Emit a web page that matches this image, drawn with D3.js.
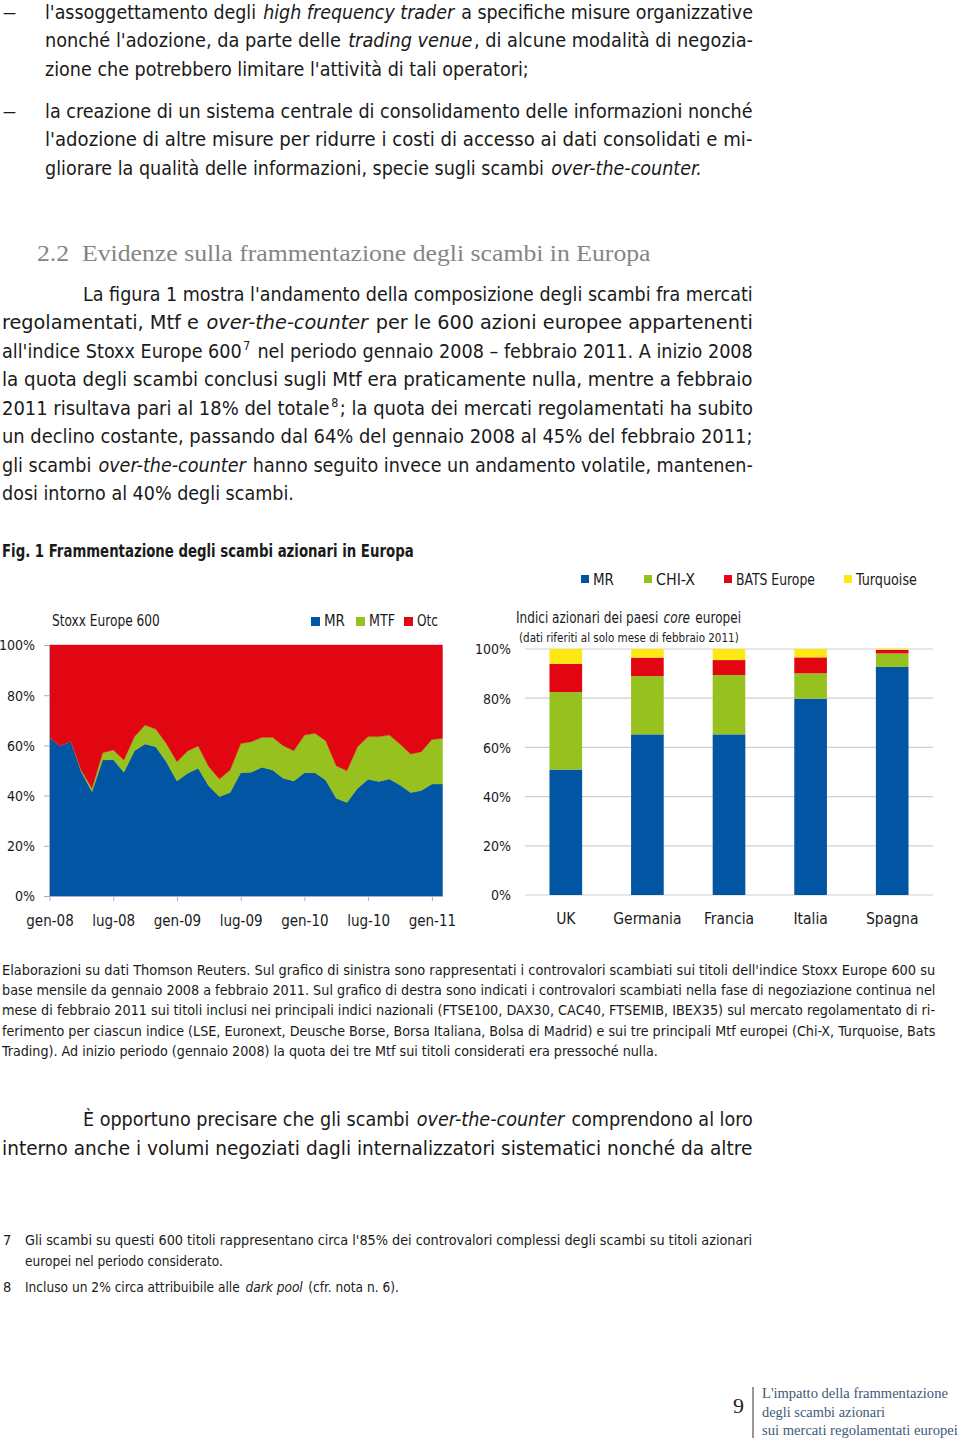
<!DOCTYPE html>
<html><head><meta charset="utf-8">
<script src="https://cdn.jsdelivr.net/npm/d3@7"></script>
<style>
html,body{margin:0;padding:0;background:#fff;}
svg{display:block;}
</style></head>
<body>
<svg id="page" width="960" height="1444"></svg>
<script>
// ---------------- DATA ----------------
const months = ["gen-08","feb-08","mar-08","apr-08","mag-08","giu-08","lug-08","ago-08","set-08","ott-08","nov-08","dic-08",
  "gen-09","feb-09","mar-09","apr-09","mag-09","giu-09","lug-09","ago-09","set-09","ott-09","nov-09","dic-09",
  "gen-10","feb-10","mar-10","apr-10","mag-10","giu-10","lug-10","ago-10","set-10","ott-10","nov-10","dic-10",
  "gen-11","feb-11"];
const mrLeft = [63.2,59.8,61.8,49.5,41.6,54.2,54.4,49.3,57.9,60.6,59.5,53.5,45.8,48.9,50.9,43.8,39.6,41.2,49.1,49.3,51.3,50.2,46.9,45.8,49.1,49.1,46.2,38.9,37.3,42.9,46.5,45.6,46.6,44.2,41.2,42.0,44.6,44.6];
const mtfLeft = [0,0,0,0.5,1.3,2.9,3.8,4.9,5.6,7.5,7.0,7.3,7.7,8.9,8.9,7.7,7.0,9.0,11.7,12.2,11.9,13.0,13.0,12.1,15.0,15.7,15.7,13.0,12.6,16.6,17.0,17.9,17.5,16.4,15.4,15.5,17.8,18.2];
const otcLeft = [36.8,40.2,38.2,50.0,57.1,42.9,41.8,45.8,36.5,31.9,33.5,39.2,46.5,42.2,40.2,48.5,53.4,49.8,39.2,38.5,36.8,36.8,40.1,42.1,35.9,35.2,38.1,48.1,50.1,40.5,36.5,36.5,35.9,39.4,43.4,42.5,37.6,37.2];
const leftTickLabels = ["gen-08","lug-08","gen-09","lug-09","gen-10","lug-10","gen-11"];
const yTickLabels = ["0%","20%","40%","60%","80%","100%"];

const countries = ["UK","Germania","Francia","Italia","Spagna"];
const mrRight   = [51.0,65.3,65.3,79.8,92.7];
const chixRight = [31.5,23.7,24.1,10.3,5.5];
const batsRight = [11.5,7.5,6.1,6.5,1.4];
const turqRight = [6.0,3.5,4.5,3.4,0.4];

const leftSeries = ["MR","MTF","Otc"];
const rightSeries = ["MR","CHI-X","BATS Europe","Turquoise"];
const colors = {blue:"#0255a3", green:"#96c11f", red:"#e20613", yellow:"#fde813"};

// ---------------- SETUP ----------------
const svg = d3.select("#page");
const SANS = "'Liberation Sans Narrow','DejaVu Sans Condensed',Roboto,sans-serif";
const SERIF = "'Liberation Serif','DejaVu Serif',serif";
const TXT = "#1a1a1a";

// text line helper: segs = [[text, style]] style: "i" italic, "sup" superscript
// each segment is its own <text>, horizontally scaled (transform) so the line spans opts.width
function line(x, y, segs, opts={}) {
  if (typeof segs === "string") segs = [[segs]];
  const size = opts.size || 20;
  const gap = 1.5;
  const els = segs.map(s => {
    const t = svg.append("text").attr("x", 0).attr("y", 0)
      .attr("font-family", opts.family || SANS)
      .attr("font-size", s[1]==="sup" ? size*0.62 : size)
      .attr("fill", opts.fill || TXT)
      .attr("font-weight", opts.weight || "normal")
      .attr("font-style", s[1]==="i" ? "italic" : "normal")
      .attr("xml:space","preserve")
      .style("white-space","pre")
      .text(s[0]);
    return t;
  });
  const widths = els.map(e => e.node().getComputedTextLength());
  const total = d3.sum(widths);
  const k = opts.width ? (opts.width - gap*(els.length-1)) / total : 1;
  let cx = x;
  els.forEach((e,i) => {
    const yy = segs[i][1]==="sup" ? y-8 : y;
    e.attr("transform", `translate(${cx},${yy}) scale(${k},1)`);
    cx += widths[i]*k + gap;
  });
}

// ---------------- BODY TEXT (top) ----------------
line(3, 19, "—", {width:13});
line(45, 19, [["l'assoggettamento degli "],["high frequency trader","i"],[" a specifiche misure organizzative"]], {width:708});
line(45, 47, [["nonché l'adozione, da parte delle "],["trading venue","i"],[", di alcune modalità di negozia-"]], {width:708});
line(45, 76, "zione che potrebbero limitare l'attività di tali operatori;", {width:484});
line(3, 118, "—", {width:13});
line(45, 118, "la creazione di un sistema centrale di consolidamento delle informazioni nonché", {width:708});
line(45, 146, "l'adozione di altre misure per ridurre i costi di accesso ai dati consolidati e mi-", {width:708});
line(45, 175, [["gliorare la qualità delle informazioni, specie sugli scambi "],["over-the-counter.","i"]], {width:657});

line(37, 261, "2.2  Evidenze sulla frammentazione degli scambi in Europa", {family:SERIF, size:23, fill:"#858585", width:614});

line(83, 301, "La figura 1 mostra l'andamento della composizione degli scambi fra mercati", {width:670});
line(2, 329, [["regolamentati, Mtf e "],["over-the-counter","i"],[" per le 600 azioni europee appartenenti"]], {width:751});
line(2, 358, [["all'indice Stoxx Europe 600"],["7","sup"],[" nel periodo gennaio 2008 – febbraio 2011. A inizio 2008"]], {width:751});
line(2, 386, "la quota degli scambi conclusi sugli Mtf era praticamente nulla, mentre a febbraio", {width:751});
line(2, 415, [["2011 risultava pari al 18% del totale"],["8","sup"],["; la quota dei mercati regolamentati ha subito"]], {width:751});
line(2, 443, "un declino costante, passando dal 64% del gennaio 2008 al 45% del febbraio 2011;", {width:751});
line(2, 472, [["gli scambi "],["over-the-counter","i"],[" hanno seguito invece un andamento volatile, mantenen-"]], {width:751});
line(2, 500, "dosi intorno al 40% degli scambi.", {width:292});

line(2, 557, "Fig. 1 Frammentazione degli scambi azionari in Europa", {size:17, weight:"bold", width:412});

// ---------------- LEFT CHART ----------------
const axisCol = "#a3b1c6";
const xL = d3.scaleLinear().domain([0, months.length-1]).range([49.5, 442.5]);
const yL = d3.scaleLinear().domain([0, 100]).range([896, 645]);

const leftData = months.map((m,i)=>({i, MR: mrLeft[i], MTF: mtfLeft[i], Otc: otcLeft[i]}));
const stackL = d3.stack().keys(leftSeries)(leftData);
const leftColors = {MR: colors.blue, MTF: colors.green, Otc: colors.red};
const area = d3.area().x(d=>xL(d.data.i)).y0(d=>yL(d[0])).y1(d=>yL(d[1]));
svg.append("g").selectAll("path").data(stackL).join("path")
  .attr("d", area).attr("fill", d=>leftColors[d.key]).attr("stroke", d=>leftColors[d.key]).attr("stroke-width",0.4);

// y axis left
const gyL = svg.append("g").attr("transform","translate(49,0)")
  .call(d3.axisLeft(yL).tickValues([0,20,40,60,80,100]).tickFormat((d,i)=>yTickLabels[i]).tickSize(5).tickPadding(9));
gyL.select(".domain").attr("stroke", axisCol);
gyL.selectAll(".tick line").attr("stroke", axisCol);
gyL.selectAll(".tick text").attr("font-family", SANS).attr("font-size", 14).attr("fill", TXT).attr("dy","0.35em");
// x axis left
const tickIdx = leftTickLabels.map(l => months.indexOf(l));
const gxL = svg.append("g").attr("transform","translate(0,896)")
  .call(d3.axisBottom(xL).tickValues(tickIdx).tickFormat(i=>months[i]).tickSize(5).tickPadding(14).tickSizeOuter(0));
gxL.select(".domain").attr("stroke", axisCol);
gxL.selectAll(".tick line").attr("stroke", axisCol);
gxL.selectAll(".tick text").attr("font-family", SANS).attr("font-size", 15).attr("fill", TXT);

line(52, 626, "Stoxx Europe 600", {size:15.5, width:108});
// left legend
const legL = [[311,"MR",colors.blue,21],[356,"MTF",colors.green,26],[404,"Otc",colors.red,21]];
legL.forEach(([x,lab,c,w])=>{
  svg.append("rect").attr("x",x).attr("y",617).attr("width",9).attr("height",9).attr("fill",c);
  line(x+13, 626, lab, {size:15.5, width:w});
});

// ---------------- RIGHT CHART ----------------
const xR = d3.scaleBand().domain(countries).range([525, 933]).paddingInner(0.6).paddingOuter(0.3);
const yR = d3.scaleLinear().domain([0,100]).range([895, 649]);
// gridlines
svg.append("g").selectAll("line").data([0,20,40,60,80,100]).join("line")
  .attr("x1",525).attr("x2",933).attr("y1",d=>yR(d)).attr("y2",d=>yR(d))
  .attr("stroke","#cfcfcf").attr("stroke-width",1.2);
const rightData = countries.map((c,i)=>({c, "MR":mrRight[i], "CHI-X":chixRight[i], "BATS Europe":batsRight[i], "Turquoise":turqRight[i]}));
const stackR = d3.stack().keys(rightSeries)(rightData);
const rightColors = {"MR":colors.blue,"CHI-X":colors.green,"BATS Europe":colors.red,"Turquoise":colors.yellow};
svg.append("g").selectAll("g").data(stackR).join("g").attr("fill", d=>rightColors[d.key])
  .selectAll("rect").data(d=>d).join("rect")
  .attr("x", d=>xR(d.data.c)).attr("width", xR.bandwidth())
  .attr("y", d=>yR(d[1])).attr("height", d=>yR(d[0])-yR(d[1]));
// y labels
const gyR = svg.append("g").attr("transform","translate(525,0)")
  .call(d3.axisLeft(yR).tickValues([0,20,40,60,80,100]).tickFormat((d,i)=>yTickLabels[i]).tickSize(0).tickPadding(14));
gyR.select(".domain").remove();
gyR.selectAll(".tick text").attr("font-family", SANS).attr("font-size", 14).attr("fill", TXT).attr("dy","0.35em");
// x labels
const gxR = svg.append("g").attr("transform","translate(0,895)")
  .call(d3.axisBottom(xR).tickSize(0).tickPadding(18));
gxR.select(".domain").remove();
gxR.selectAll(".tick text").attr("font-family", SANS).attr("font-size", 15.5).attr("fill", TXT);

line(516, 623, [["Indici azionari dei paesi "],["core","i"],[" europei"]], {size:15.5, width:225});
line(519, 642, "(dati riferiti al solo mese di febbraio 2011)", {size:12.5, width:220});
// right legend
const legR = [[581,"MR",colors.blue,21],[644,"CHI-X",colors.green,39],[724,"BATS Europe",colors.red,79],[844,"Turquoise",colors.yellow,61]];
legR.forEach(([x,lab,c,w])=>{
  svg.append("rect").attr("x",x).attr("y",575).attr("width",8).attr("height",8).attr("fill",c);
  line(x+12, 584.5, lab, {size:15.5, width:w});
});

// ---------------- CAPTION ----------------
const cs = 14.2;
line(2, 975, "Elaborazioni su dati Thomson Reuters. Sul grafico di sinistra sono rappresentati i controvalori scambiati sui titoli dell'indice Stoxx Europe 600 su", {size:cs, width:933});
line(2, 995, "base mensile da gennaio 2008 a febbraio 2011. Sul grafico di destra sono indicati i controvalori scambiati nella fase di negoziazione continua nel", {size:cs, width:933});
line(2, 1015, "mese di febbraio 2011 sui titoli inclusi nei principali indici nazionali (FTSE100, DAX30, CAC40, FTSEMIB, IBEX35) sul mercato regolamentato di ri-", {size:cs, width:933});
line(2, 1036, "ferimento per ciascun indice (LSE, Euronext, Deusche Borse, Borsa Italiana, Bolsa di Madrid) e sui tre principali Mtf europei (Chi-X, Turquoise, Bats", {size:cs, width:933});
line(2, 1056, "Trading). Ad inizio periodo (gennaio 2008) la quota dei tre Mtf sui titoli considerati era pressoché nulla.", {size:cs, width:656});

// ---------------- LOWER TEXT ----------------
line(83, 1126, [["È opportuno precisare che gli scambi "],["over-the-counter","i"],[" comprendono al loro"]], {width:670});
line(2, 1155, "interno anche i volumi negoziati dagli internalizzatori sistematici nonché da altre", {width:751});

line(3, 1245, "7", {size:14.5});
line(25, 1245, "Gli scambi su questi 600 titoli rappresentano circa l'85% dei controvalori complessi degli scambi su titoli azionari", {size:14.5, width:728});
line(25, 1266, "europei nel periodo considerato.", {size:14.5, width:198});
line(3, 1292, "8", {size:14.5});
line(25, 1292, [["Incluso un 2% circa attribuibile alle "],["dark pool","i"],[" (cfr. nota n. 6)."]], {size:14.5, width:374});

// ---------------- FOOTER ----------------
line(733, 1413, "9", {family:SERIF, size:22, fill:"#222"});
svg.append("line").attr("x1",753).attr("x2",753).attr("y1",1387).attr("y2",1438).attr("stroke","#333").attr("stroke-width",1);
const footCol = "#3d5a78";
line(762, 1398, "L'impatto della frammentazione", {family:SERIF, size:14, fill:footCol, width:186});
line(762, 1417, "degli scambi azionari", {family:SERIF, size:14, fill:footCol, width:123});
line(762, 1435, "sui mercati regolamentati europei", {family:SERIF, size:14, fill:footCol, width:196});
</script>
</body></html>
